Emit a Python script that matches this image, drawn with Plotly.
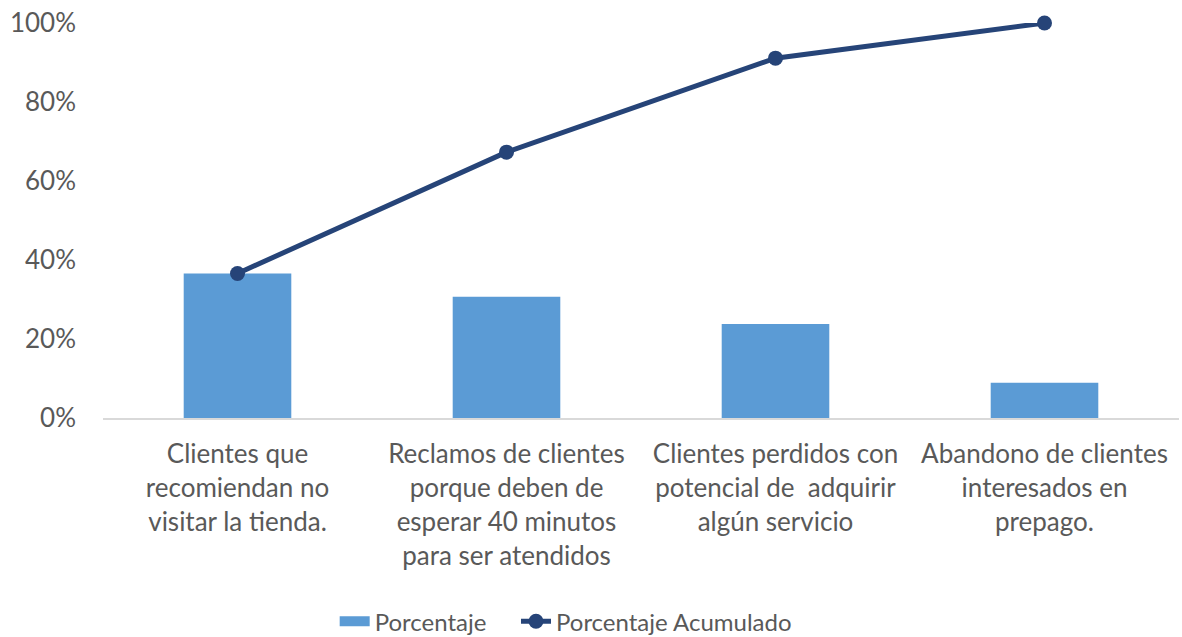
import plotly.graph_objects as go

categories = [
    "Clientes que<br>recomiendan no<br>visitar la tienda.",
    "Reclamos de clientes<br>porque deben de<br>esperar 40 minutos<br>para ser atendidos",
    "Clientes perdidos con<br>potencial de  adquirir<br>algún servicio",
    "Abandono de clientes<br>interesados en<br>prepago.",
]
porcentaje = [0.366, 0.307, 0.238, 0.089]
acumulado = [0.366, 0.673, 0.911, 1.0]
y_ticks = [0, 0.2, 0.4, 0.6, 0.8, 1.0]

FONT = "Lato"
GRAY = "#595959"
BAR = "#5B9BD5"
LINE = "#264478"
FS = 26

fig = go.Figure()
fig.add_trace(go.Bar(
    x=categories, y=porcentaje, name="Porcentaje",
    marker=dict(color=BAR, line=dict(width=0)),
    showlegend=False,
))
# legend-only entry giving a wide rectangular swatch for the bars
fig.add_trace(go.Scatter(
    x=[categories[0]], y=[None], name="Porcentaje\u00a0\u00a0\u00a0\u00a0",
    mode="lines", line=dict(color=BAR, width=17),
    showlegend=True, hoverinfo="skip",
))
fig.add_trace(go.Scatter(
    x=categories, y=acumulado, name="Porcentaje Acumulado",
    mode="lines+markers",
    line=dict(color=LINE, width=5),
    marker=dict(color=LINE, size=15),
    cliponaxis=False,
))

fig.update_layout(
    width=1182, height=637,
    margin=dict(l=103, r=3, t=23, b=219),
    paper_bgcolor="white", plot_bgcolor="white",
    font=dict(family=FONT, size=FS, color=GRAY),
    bargap=0.6,
    showlegend=True,
    legend=dict(
        orientation="h", x=0.43, xanchor="center",
        yref="container", y=0.024, yanchor="middle",
        font=dict(family=FONT, size=24, color=GRAY),
        itemwidth=30, tracegroupgap=0,
    ),
)
fig.update_xaxes(
    showgrid=False, showline=True, linecolor="#D9D9D9", linewidth=2,
    ticks="", ticklabelstandoff=12,
    tickfont=dict(family=FONT, size=FS, color=GRAY),
)
fig.update_yaxes(
    range=[0, 1], tickvals=y_ticks, tickformat=".0%",
    showgrid=False, zeroline=False, showline=False, ticks="",
    ticklabelstandoff=26,
    tickfont=dict(family=FONT, size=FS, color=GRAY),
)

fig.write_html("out.html")
